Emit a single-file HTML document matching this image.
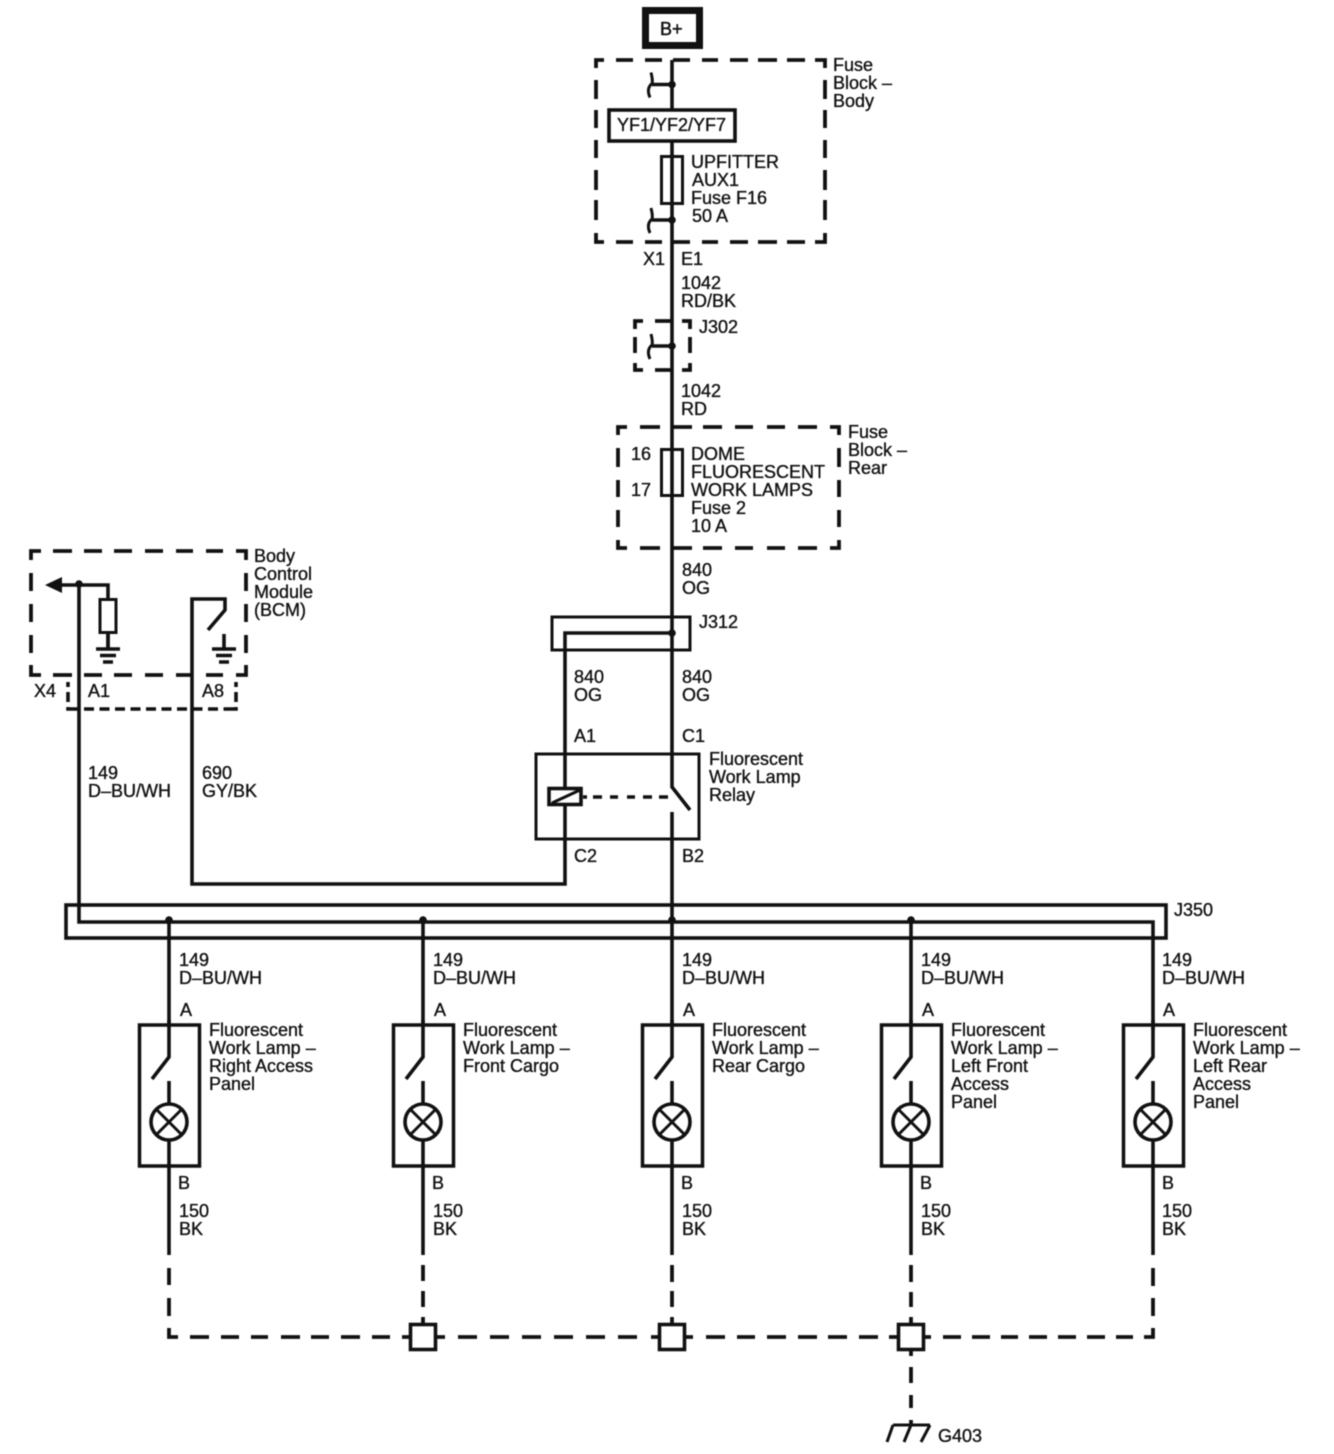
<!DOCTYPE html>
<html><head><meta charset="utf-8"><style>
html,body{margin:0;padding:0;background:#fff;width:1334px;height:1454px;overflow:hidden}
svg{display:block;filter:blur(.55px)}
text{font-family:"Liberation Sans",sans-serif;font-size:18px;fill:#111;stroke:#111;stroke-width:.35}
.w{fill:none;stroke:#111;stroke-width:3.6}
.t{fill:none;stroke:#111;stroke-width:3}
.d{fill:none;stroke:#111;stroke-width:3.8}
.b{fill:#fff;stroke:#111;stroke-width:3.6}
</style></head><body>
<svg width="1334" height="1454" viewBox="0 0 1334 1454" xmlns="http://www.w3.org/2000/svg">
<defs>
<g id="conn"><path class="w" d="M672 0H652"/><path class="t" d="M651-12Q653-4 652-1Q646 4 650 13"/><circle cx="672" cy="0" r="3.800" fill="#111"/></g>
<g id="lamp">
<rect class="t" x="139.500" y="1025" width="60" height="141" style="stroke-width:3.500"/>
<path class="w" d="M169 1020V1057L152 1079M169 1081V1104M169 1140V1255"/>
<circle class="w" cx="169" cy="1122" r="18"/>
<path class="t" d="M156.500 1109.500L181.500 1134.500M181.500 1109.500L156.500 1134.500"/>
</g>
<g id="stem"><path class="w" d="M169 920V1025"/><circle cx="169" cy="920" r="3.800" fill="#111"/></g>
<g id="gnd"><path class="w" d="M0 0V15M-12 15H12"/><path class="w" d="M-8 21.500H8M-5 28H5"/></g>
<rect id="sq" class="b" x="-12.500" y="-12.500" width="25" height="25"/>
</defs>

<!-- B+ -->
<rect x="645.500" y="10.500" width="54" height="35" fill="#fff" stroke="#111" stroke-width="7"/>
<text x="660" y="35" style="stroke-width:.5">B+</text>

<!-- main wire -->
<path class="w" d="M672 60V787L690 810M672 812V920"/>

<!-- Fuse block body -->
<path class="d" d="M604 60H596V68M596 80V99M596 110V128M596 140V158M596 170V190M596 200V220M596 233V242H604
M616 60H633M645 60H662M673 60H690M702 60H718M730 60H748M758 60H777M787 60H805M815 60H825V68
M825 80V99M825 110V128M825 140V158M825 170V190M825 200V220M825 233V242H815
M616 242H633M645 242H662M673 242H690M702 242H718M730 242H748M758 242H777M787 242H805"/>
<use href="#conn" y="84.500"/>
<rect class="b" x="609" y="110" width="126" height="31"/>
<text x="617" y="131">YF1/YF2/YF7</text>
<rect class="t" x="661.500" y="156.500" width="21" height="47"/>
<use href="#conn" y="220"/>
<text x="833" y="71">Fuse</text><text x="833" y="89">Block –</text><text x="833" y="107">Body</text>
<text x="691" y="168">UPFITTER</text><text x="692" y="186">AUX1</text><text x="691" y="204">Fuse F16</text><text x="692" y="222">50 A</text>
<text x="643" y="265">X1</text><text x="681" y="265">E1</text>
<text x="681" y="289">1042</text><text x="681" y="307">RD/BK</text>

<!-- J302 -->
<path class="d" d="M643 321H635V329M635 337V353M635 363V370H643M655 321H672M655 370H672M682 321H690V329M690 337V353M690 363V370H682"/>
<use href="#conn" y="346"/>
<text x="699" y="333">J302</text>
<text x="681" y="397">1042</text><text x="681" y="415">RD</text>

<!-- Fuse block rear -->
<path class="d" d="M627 427H618V435M618 448V467M618 480V497M618 510V527M618 540V548H627
M640 427H660M673 427H692M703 427H722M735 427H753M767 427H785M798 427H817M830 427H839V435
M839 448V467M839 480V497M839 510V527M839 540V548H830
M640 548H660M673 548H692M703 548H722M735 548H753M767 548H785M798 548H817"/>
<rect class="t" x="661.500" y="449.500" width="21" height="46"/>
<text x="631" y="460">16</text><text x="631" y="496">17</text>
<text x="691" y="460">DOME</text><text x="691" y="478">FLUORESCENT</text><text x="691" y="496">WORK LAMPS</text><text x="691" y="514">Fuse 2</text><text x="691" y="532">10 A</text>
<text x="848" y="438">Fuse</text><text x="848" y="456">Block –</text><text x="848" y="474">Rear</text>
<text x="682" y="576">840</text><text x="682" y="594">OG</text>

<!-- J312 -->
<rect class="t" x="552" y="617" width="138" height="33"/>
<path class="w" d="M672 633H565V884H192V599H225V610L208 630"/>
<circle cx="672" cy="633" r="3.800" fill="#111"/>
<text x="699" y="628">J312</text>
<text x="574" y="683">840</text><text x="574" y="701">OG</text>
<text x="682" y="683">840</text><text x="682" y="701">OG</text>
<text x="574" y="742">A1</text><text x="682" y="742">C1</text>

<!-- Relay -->
<rect class="t" x="536" y="754" width="163" height="85"/>
<rect class="b" x="549" y="788.500" width="32" height="16"/>
<path class="t" d="M552 803L580 790"/>
<path class="w" d="M583 797H587M593 797H602M610 797H618M627 797H635M643 797H652M659 797H668"/>
<text x="709" y="765">Fluorescent</text><text x="709" y="783">Work Lamp</text><text x="709" y="801">Relay</text>
<text x="574" y="862">C2</text><text x="682" y="862">B2</text>

<!-- BCM -->
<path class="d" d="M41 551H31V560M31 573V591M31 604V622M31 635V653M31 665V675H41
M53 551H72M84 551H102M114 551H132M145 551H163M176 551H193M206 551H223M236 551H246V560
M246 573V591M246 604V622M246 635V653M246 665V675H236
M53 675H72M84 675H102M114 675H132M145 675H163M176 675H193M206 675H223"/>
<path class="w" d="M68 682V687M68 692V702M68 707V709H79M236 682V687M236 692V702M236 707V709H226"/>
<path class="w" d="M84 709H226" stroke-dasharray="10 5.500"/>
<path d="M45 585L62 577V593Z" fill="#111"/>
<path class="w" d="M60 585H108V599M108 633V649"/>
<rect class="t" x="100" y="599.500" width="16" height="33"/>
<use href="#gnd" x="108" y="634"/>
<use href="#gnd" x="224" y="634"/>
<circle cx="79" cy="584" r="3.800" fill="#111"/>
<path class="w" d="M79 585V922H1153V1030"/>
<text x="254" y="562">Body</text><text x="254" y="580">Control</text><text x="254" y="598">Module</text><text x="254" y="616">(BCM)</text>
<text x="34" y="697">X4</text><text x="88" y="697">A1</text><text x="202" y="697">A8</text>
<text x="88" y="779">149</text><text x="88" y="797">D–BU/WH</text>
<text x="202" y="779">690</text><text x="202" y="797">GY/BK</text>

<!-- J350 -->
<rect class="w" x="66" y="905" width="1100" height="33"/>
<text x="1174" y="916">J350</text>

<!-- Lamps -->
<use href="#stem"/><use href="#stem" x="254"/><use href="#stem" x="503"/><use href="#stem" x="742"/>
<use href="#lamp"/>
<use href="#lamp" x="254"/>
<use href="#lamp" x="503"/>
<use href="#lamp" x="742"/>
<use href="#lamp" x="984"/>

<text x="179" y="966">149</text><text x="179" y="984">D–BU/WH</text><text x="180" y="1016">A</text>
<text x="209" y="1036">Fluorescent</text><text x="209" y="1054">Work Lamp –</text><text x="209" y="1072">Right Access</text><text x="209" y="1090">Panel</text>
<text x="178" y="1189">B</text><text x="179" y="1217">150</text><text x="179" y="1235">BK</text>

<text x="433" y="966">149</text><text x="433" y="984">D–BU/WH</text><text x="434" y="1016">A</text>
<text x="463" y="1036">Fluorescent</text><text x="463" y="1054">Work Lamp –</text><text x="463" y="1072">Front Cargo</text>
<text x="432" y="1189">B</text><text x="433" y="1217">150</text><text x="433" y="1235">BK</text>

<text x="682" y="966">149</text><text x="682" y="984">D–BU/WH</text><text x="683" y="1016">A</text>
<text x="712" y="1036">Fluorescent</text><text x="712" y="1054">Work Lamp –</text><text x="712" y="1072">Rear Cargo</text>
<text x="681" y="1189">B</text><text x="682" y="1217">150</text><text x="682" y="1235">BK</text>

<text x="921" y="966">149</text><text x="921" y="984">D–BU/WH</text><text x="922" y="1016">A</text>
<text x="951" y="1036">Fluorescent</text><text x="951" y="1054">Work Lamp –</text><text x="951" y="1072">Left Front</text><text x="951" y="1090">Access</text><text x="951" y="1108">Panel</text>
<text x="920" y="1189">B</text><text x="921" y="1217">150</text><text x="921" y="1235">BK</text>

<text x="1162" y="966">149</text><text x="1162" y="984">D–BU/WH</text><text x="1163" y="1016">A</text>
<text x="1193" y="1036">Fluorescent</text><text x="1193" y="1054">Work Lamp –</text><text x="1193" y="1072">Left Rear</text><text x="1193" y="1090">Access</text><text x="1193" y="1108">Panel</text>
<text x="1162" y="1189">B</text><text x="1162" y="1217">150</text><text x="1162" y="1235">BK</text>

<!-- Dashed ground bus -->
<path class="d" d="M169 1268V1285M169 1298V1316M169 1328V1337H178
M190 1337H209M221 1337H239M251 1337H268M281 1337H300M311 1337H329M341 1337H360M372 1337H390M402 1337H412
M434 1337H445M458 1337H477M490 1337H509M522 1337H541M554 1337H573M586 1337H605M618 1337H637M651 1337H660
M684 1337H693M706 1337H725M737 1337H755M767 1337H786M798 1337H817M828 1337H847M859 1337H878M889 1337H899
M923 1337H931M943 1337H961M972 1337H990M1001 1337H1018M1029 1337H1047M1058 1337H1076M1087 1337H1105M1116 1337H1133M1144 1337H1153V1328
M1153 1316V1298M1153 1286V1268
M423 1265V1281M423 1291V1307M423 1317V1325
M672 1265V1282M672 1291V1307M672 1317V1325
M911 1265V1282M911 1292V1307M911 1317V1325M911 1349V1356M911 1367V1383M911 1395V1408M911 1420V1425"/>
<use href="#sq" x="423" y="1337"/>
<use href="#sq" x="672" y="1337"/>
<use href="#sq" x="911" y="1337"/>

<!-- Ground -->
<path class="t" d="M893 1425H930M893 1425L887 1442M911 1425L904 1442M930 1425L921 1442"/>
<text x="938" y="1442">G403</text>
</svg>
</body></html>
